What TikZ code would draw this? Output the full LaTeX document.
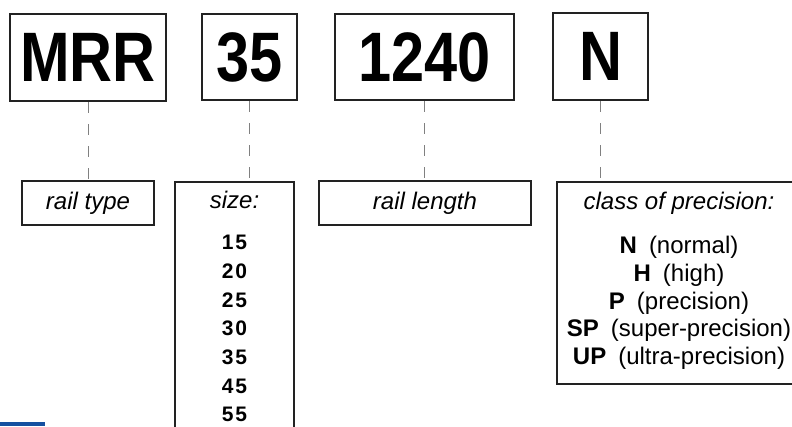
\documentclass[tikz,border=0pt]{standalone}
\usepackage{fontspec}
\usepackage{graphicx}
\setmainfont{Liberation Sans}
\definecolor{edgegray}{HTML}{222222}
\definecolor{dashgray}{HTML}{808080}
\definecolor{barblue}{HTML}{1550A0}
\newcommand{\bigcode}[1]{\scalebox{0.85}[1]{#1}}
\newcommand{\sz}[2]{#1\kern2pt#2}
\tikzset{
    codebox/.style={draw=edgegray, line width=2pt, inner sep=0pt,
        font=\fontsize{70}{80}\selectfont\bfseries},
    infobox/.style={draw=edgegray, line width=1.8pt, inner sep=0pt,
        font=\fontsize{24}{28}\selectfont\itshape},
    leader/.style={draw=dashgray, line width=0.9pt, dash pattern=on 11pt off 11pt},
}
\begin{document}
\begin{tikzpicture}[x=1pt,y=-1pt]
    \clip (0,0) rectangle (792,426);
    \fill[white] (0,0) rectangle (792,426);

    % order code
    \node[codebox, minimum width=156, minimum height=87] (type) at (88,57.5) {\bigcode{MRR}};
    \node[codebox, minimum width=95, minimum height=86] (size) at (249.5,57) {\bigcode{35}};
    \node[codebox, minimum width=179, minimum height=86] (length) at (424.5,57) {\bigcode{1240}};
    \node[codebox, minimum width=95, minimum height=87] (prec) at (600.5,56.5) {\bigcode{N}};

    % explanations
    \node[infobox, minimum width=132, minimum height=44] (typeinfo) at (88,203) {rail type};
    \node[infobox, minimum width=119, minimum height=300, anchor=north] (sizeinfo) at (234.5,181) {};
    \node[infobox, minimum width=212, minimum height=44] (lengthinfo) at (425,203) {rail length};
    \node[infobox, minimum width=244, minimum height=202, anchor=north] (precinfo) at (679,181) {};

    \node[anchor=base, font=\fontsize{24}{28}\selectfont\itshape] (sizetitle) at (sizeinfo.north |- 0,208) {size:};
    \node[anchor=north, inner sep=0pt, align=center, font=\fontsize{21}{28.7}\selectfont\bfseries]
        (sizelist) at (sizeinfo.north |- 0,235)
        {\sz15\\\sz20\\\sz25\\\sz30\\\sz35\\\sz45\\\sz55};

    \node[anchor=base, font=\fontsize{24}{28}\selectfont\itshape] (prectitle) at (precinfo.north |- 0,209) {class of precision:};
    \node[anchor=north, inner sep=0pt, align=center, font=\fontsize{24}{27.8}\selectfont]
        (preclist) at (precinfo.north |- 0,236)
        {\textbf{N}\enspace(normal)\\\textbf{H}\enspace(high)\\\textbf{P}\enspace(precision)\\
         \textbf{SP}\enspace(super-precision)\\\textbf{UP}\enspace(ultra-precision)};

    % leaders
    \draw[leader] (type.south) -- (typeinfo.north);
    \draw[leader] (size.south) -- (size.south |- sizeinfo.north);
    \draw[leader] (length.south) -- (length.south |- lengthinfo.north);
    \draw[leader] (prec.south) -- (prec.south |- precinfo.north);

    % bar
    \fill[barblue] (0,422) rectangle (45,426);
\end{tikzpicture}
\end{document}
